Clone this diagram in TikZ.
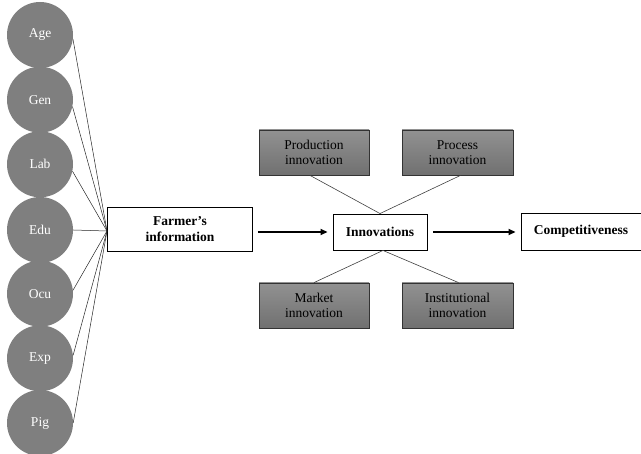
\documentclass[tikz,border=0pt]{standalone}
\usepackage{fontspec}
\setmainfont{Liberation Serif}
\usetikzlibrary{arrows.meta}
\definecolor{cgray}{HTML}{7F7F7F}
\tikzset{
  circ/.style={circle, fill=cgray, minimum size=66pt, inner sep=0pt, text=white, font=\fontsize{13.5}{15}\selectfont},
  wbox/.style={draw=black, line width=0.9pt, fill=white, align=center, inner sep=0pt, font=\fontsize{13.5}{15.5}\selectfont\bfseries},
  gbox/.style={draw=black!80, line width=0.8pt, top color=black!43, bottom color=black!56, align=center, minimum width=110pt, minimum height=45pt, inner sep=0pt, font=\fontsize{13.5}{15.5}\selectfont},
  spoke/.style={draw=black!75, line width=0.6pt},
  ray/.style={draw=black!85, line width=0.5pt},
  flow/.style={line width=1.7pt, -{Triangle[length=7pt,width=6pt]}}
}
\begin{document}
\begin{tikzpicture}[x=1pt,y=-1pt]
\useasboundingbox (0,0) rectangle (641,454);
\node[circ] (age) at (40,35) {Age};
\node[circ] (gen) at (40,99.7) {Gen};
\node[circ] (lab) at (40,164.3) {Lab};
\node[circ] (edu) at (40,230) {Edu};
\node[circ] (ocu) at (40,293.7) {Ocu};
\node[circ] (exp) at (40,358.3) {Exp};
\node[circ] (pig) at (40,423) {Pig};
\node[wbox, minimum width=145pt, minimum height=44pt] (farm) at (180,229) {Farmer’s\\information};
\coordinate (conv) at (107,231);
\draw[ray] (age.-7) -- (conv);
\draw[ray] (gen.-12) -- (conv);
\draw[ray] (lab.-12) -- (conv);
\draw[ray] (edu.east) -- (conv);
\draw[ray] (ocu.6) -- (conv);
\draw[ray] (exp.5) -- (conv);
\draw[ray] (pig.east) -- (conv);
\node[wbox, minimum width=94pt, minimum height=36pt] (inno) at (380,232) {Innovations};
\node[wbox, minimum width=120pt, minimum height=37pt] (comp) at (581,231.5) {Competitiveness};
\node[gbox] (prod) at (314,152.5) {Production\\innovation};
\node[gbox, minimum width=111pt] (proc) at (457.5,152.5) {Process\\innovation};
\node[gbox] (mark) at (314,305.5) {Market\\innovation};
\node[gbox, minimum width=111pt] (inst) at (457.5,305.5) {Institutional\\innovation};
\draw[spoke] (prod.south) ++(-4,0) -- (inno.north);
\draw[spoke] (proc.south) ++(3,0) -- (inno.north);
\draw[spoke] (mark.north) -- ([xshift=3pt]inno.south);
\draw[spoke] (inst.north) ++(1,0) -- ([xshift=3pt]inno.south);
\draw[flow] ([xshift=5pt]farm.east |- inno.west) -- ([xshift=-5pt]inno.west);
\draw[flow] ([xshift=6pt]inno.east) -- ([xshift=-5pt]comp.west |- inno.east);
\end{tikzpicture}
\end{document}
